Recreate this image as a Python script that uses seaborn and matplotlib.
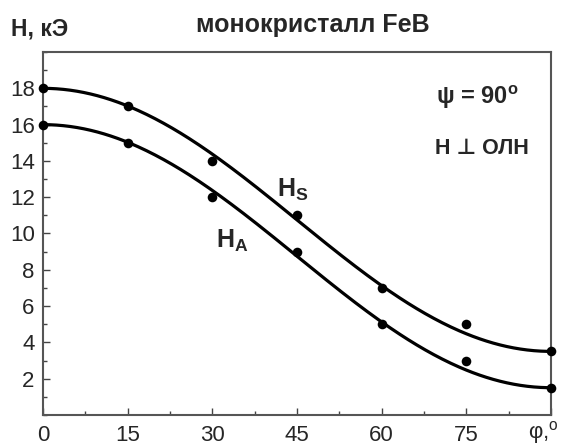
import numpy as np
import pandas as pd
import matplotlib
matplotlib.use("Agg")
import matplotlib.pyplot as plt
import matplotlib.transforms as mtransforms
from matplotlib.ticker import MultipleLocator
import seaborn as sns

# ---- data ----
phi = [0, 15, 30, 45, 60, 75, 90]
h_s = [18, 17, 14, 11, 7, 5, 3.5]
h_a = [16, 15, 12, 9, 5, 3, 1.5]
x_ticks = [0, 15, 30, 45, 60, 75, 90]
x_labels = ["0", "15", "30", "45", "60", "75", "φ,$^{\\mathregular{o}}$"]
y_ticks = [2, 4, 6, 8, 10, 12, 14, 16, 18]

sns.set_style("ticks")
plt.rcParams["font.family"] = ["Liberation Sans", "DejaVu Sans"]
plt.rcParams["mathtext.fontset"] = "custom"
plt.rcParams["mathtext.rm"] = "Liberation Sans"
plt.rcParams["mathtext.it"] = "Liberation Sans:italic"
plt.rcParams["mathtext.bf"] = "Liberation Sans:bold"

fig = plt.figure(figsize=(5.64, 4.45), dpi=100)
ax = fig.add_axes([43 / 564, 30 / 445, 508 / 564, 363 / 445])


def fit_curve(x, y):
    # weighted least-squares smooth fit with a cos(2φ), cos(4φ) basis
    x = np.radians(np.asarray(x, float))
    y = np.asarray(y, float)
    w = np.ones_like(x)
    w[0] = w[-1] = 10.0
    A = np.column_stack([np.ones_like(x), np.cos(2 * x), np.cos(4 * x)])
    coef, *_ = np.linalg.lstsq(A * w[:, None], y * w, rcond=None)
    xs = np.linspace(0, 90, 300)
    r = np.radians(xs)
    ys = coef[0] + coef[1] * np.cos(2 * r) + coef[2] * np.cos(4 * r)
    return xs, ys


for ys in (h_s, h_a):
    fx, fy = fit_curve(phi, ys)
    sns.lineplot(x=fx, y=fy, ax=ax, color="black", linewidth=2.3, clip_on=False)
    sns.scatterplot(x=phi, y=ys, ax=ax, color="black", s=48, edgecolor="black",
                    linewidth=0, zorder=5, clip_on=False)

ax.set_xlim(0, 90)
ax.set_ylim(0, 20)
ax.set_xticks(x_ticks)
ax.set_xticklabels(x_labels)
ax.set_yticks(y_ticks)
ax.xaxis.set_minor_locator(MultipleLocator(7.5))
ax.yaxis.set_minor_locator(MultipleLocator(1))
ax.tick_params(axis="both", which="major", direction="in", length=5, width=1,
               color="#444444", labelsize=16, pad=6)
ax.tick_params(axis="both", which="minor", direction="in", length=3, width=1,
               color="#444444")
ax.tick_params(axis="x", pad=7)
last = ax.get_xticklabels()[-1]
last.set_transform(last.get_transform() +
                   mtransforms.ScaledTranslation(-8 / 100, 6 / 100, fig.dpi_scale_trans))
for sp in ax.spines.values():
    sp.set_visible(True)
    sp.set_color("#555555")
    sp.set_linewidth(1.5)
ax.set_xlabel("")
ax.set_ylabel("")

fig.text(11 / 564, 1 - 29 / 445, "H, кЭ", fontsize=16.5, fontweight="bold",
         ha="left", va="center")
fig.text(313 / 564, 1 - 25 / 445, "монокристалл FeB", fontsize=18,
         fontweight="bold", ha="center", va="center")
ax.text(77.0, 17.5, "ψ = 90$^{\\mathbf{o}}$", fontsize=17, fontweight="bold",
        ha="center", va="center")
ax.text(77.8, 14.7, "H ⊥ ОЛН", fontsize=15.5, fontweight="bold",
        ha="center", va="center")
ax.text(44.2, 12.4, "$\\mathbf{H_S}$", fontsize=18, ha="center", va="center")
ax.text(33.5, 9.6, "$\\mathbf{H_A}$", fontsize=18, ha="center", va="center")

fig.savefig("out.png", dpi=100)
